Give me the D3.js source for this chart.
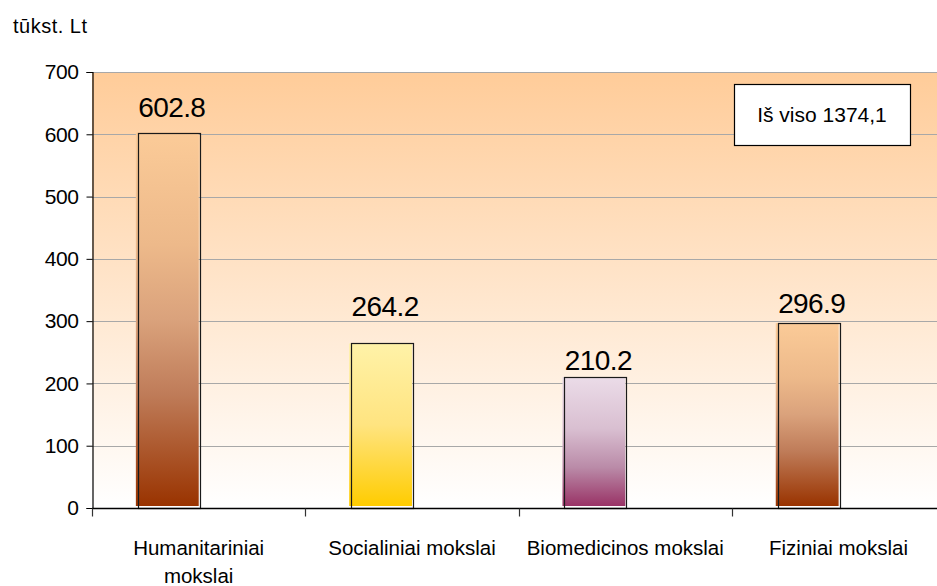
<!DOCTYPE html>
<html>
<head>
<meta charset="utf-8">
<script src="https://cdn.jsdelivr.net/npm/d3@7"></script>
<style>
  html, body { margin: 0; padding: 0; background: #ffffff; }
  svg { display: block; font-family: "Liberation Sans", Arial, sans-serif; }
</style>
</head>
<body>
<svg id="chart" width="937" height="586"></svg>
<script>
// ---- data ----
const categories = ["Humanitariniai mokslai", "Socialiniai mokslai", "Biomedicinos mokslai", "Fiziniai mokslai"];
const values = [602.8, 264.2, 210.2, 296.9];
const valueLabels = ["602.8", "264.2", "210.2", "296.9"];
const yTicks = [0, 100, 200, 300, 400, 500, 600, 700];
const unitLabel = "tūkst. Lt";
const totalLabel = "Iš viso 1374,1";

// ---- styles ----
const brownStops = [["0%", "#FBCB98"], ["30%", "#EDB98A"], ["50%", "#DAA27C"], ["70%", "#BF7C59"], ["100%", "#993300"]];
const yellowStops = [["0%", "#FFF2A8"], ["50%", "#FFE480"], ["100%", "#FFCC00"]];
const plumStops = [["0%", "#EBDCE8"], ["40%", "#D9BFD1"], ["70%", "#BA8BA8"], ["100%", "#993366"]];
const barStops = [brownStops, yellowStops, plumStops, brownStops];
const labelLift = [16, 27, 7, 10];

const svg = d3.select("#chart");
const margin = { left: 92, top: 72, bottom: 508 };
const bandW = 213.3;

const x = d3.scaleBand().domain(categories).range([margin.left, margin.left + bandW * categories.length]).padding(0);
const y = d3.scaleLinear().domain([0, 700]).range([margin.bottom, margin.top]);
const plotRight = x.range()[1];

const defs = svg.append("defs");
const bg = defs.append("linearGradient").attr("id", "bg").attr("x1", 0).attr("y1", 0).attr("x2", 0).attr("y2", 1);
bg.append("stop").attr("offset", "0%").attr("stop-color", "#FFCC99");
bg.append("stop").attr("offset", "100%").attr("stop-color", "#FFFFFF");

categories.forEach((c, i) => {
  const g = defs.append("linearGradient").attr("id", "bar" + i).attr("x1", 0).attr("y1", 0).attr("x2", 0).attr("y2", 1);
  barStops[i].forEach(s => g.append("stop").attr("offset", s[0]).attr("stop-color", s[1]));
});

// plot background
svg.append("rect")
  .attr("x", margin.left).attr("y", y(700))
  .attr("width", plotRight - margin.left).attr("height", y(0) - y(700))
  .attr("fill", "url(#bg)");

// gridlines
svg.append("g").selectAll("line").data(yTicks.filter(d => d > 0)).join("line")
  .attr("x1", margin.left).attr("x2", plotRight)
  .attr("y1", d => Math.round(y(d)) + 0.5).attr("y2", d => Math.round(y(d)) + 0.5)
  .attr("stroke", "#A8A8A8").attr("stroke-width", 1);

// bars
const bx = d => x(d) + x.bandwidth() * 0.215;
const bw = x.bandwidth() * 0.29;
const bars = svg.append("g").selectAll("g").data(categories).join("g");
bars.append("rect")
  .attr("x", (d) => bx(d) - 2)
  .attr("y", (d, i) => y(values[i]))
  .attr("width", bw + 1)
  .attr("height", (d, i) => y(0) - y(values[i]) - 2)
  .attr("fill", (d, i) => `url(#bar${i})`);
bars.append("rect")
  .attr("x", d => Math.round(bx(d)) + 0.5)
  .attr("y", (d, i) => Math.round(y(values[i])) + 0.5)
  .attr("width", Math.round(bw))
  .attr("height", (d, i) => Math.round(y(0)) - Math.round(y(values[i])))
  .attr("fill", "none").attr("stroke", "#1a1a1a").attr("stroke-width", 1.2);

// value labels
svg.append("g").selectAll("text").data(categories).join("text")
  .attr("x", d => bx(d) + bw / 2 + 3)
  .attr("y", (d, i) => y(values[i]) - labelLift[i])
  .attr("text-anchor", "middle")
  .attr("font-size", "28px")
  .attr("letter-spacing", "-0.6px")
  .attr("fill", "#000")
  .text((d, i) => valueLabels[i]);

// y axis
const yAxis = svg.append("g").attr("transform", `translate(${margin.left + 0.5},0)`)
  .call(d3.axisLeft(y).tickValues(yTicks).tickSize(6).tickPadding(8).tickFormat(d3.format("d")));
yAxis.select(".domain").attr("stroke", "#000").attr("stroke-width", 1.2);
yAxis.selectAll(".tick line").attr("stroke", "#000");
yAxis.selectAll(".tick text").attr("font-size", "21px").attr("fill", "#000")
  .attr("font-family", "\"Liberation Sans\", Arial, sans-serif").attr("letter-spacing", "-0.4px");

// x axis
const xAxis = svg.append("g").attr("transform", `translate(0,${Math.round(y(0)) + 0.5})`);
xAxis.append("line").attr("x1", margin.left).attr("x2", plotRight).attr("stroke", "#000").attr("stroke-width", 1.4);
xAxis.selectAll("line.tk").data(d3.range(categories.length + 1)).join("line").attr("class", "tk")
  .attr("x1", i => Math.round(margin.left + x.step() * i) + 0.5)
  .attr("x2", i => Math.round(margin.left + x.step() * i) + 0.5)
  .attr("y1", 0).attr("y2", 8).attr("stroke", "#333").attr("stroke-width", 1.2);

// category labels (wrapped)
const catText = svg.append("g").selectAll("text").data(categories).join("text")
  .attr("x", d => x(d) + x.bandwidth() / 2)
  .attr("y", 555)
  .attr("text-anchor", "middle")
  .attr("font-size", "20.5px")
  .attr("fill", "#000");
catText.each(function (d) {
  const t = d3.select(this);
  const words = d.split(" ");
  let line = [];
  let lines = [];
  const tmp = t.append("tspan");
  words.forEach(w => {
    line.push(w);
    tmp.text(line.join(" "));
    if (tmp.node().getComputedTextLength() > 202 && line.length > 1) {
      line.pop();
      lines.push(line.join(" "));
      line = [w];
    }
  });
  lines.push(line.join(" "));
  tmp.remove();
  lines.forEach((l, k) => {
    t.append("tspan").attr("x", x(d) + x.bandwidth() / 2).attr("dy", k === 0 ? 0 : 28).text(l);
  });
});

// unit label
svg.append("text").attr("x", 13).attr("y", 33).attr("font-size", "20px").attr("letter-spacing", "0.5px")
  .attr("fill", "#000").text(unitLabel);

// total box
const boxG = svg.append("g");
boxG.append("rect").attr("x", 734.5).attr("y", 84.5).attr("width", 176).attr("height", 61)
  .attr("fill", "#fff").attr("stroke", "#000").attr("stroke-width", 1.2);
boxG.append("text").attr("x", 822).attr("y", 122).attr("text-anchor", "middle")
  .attr("font-size", "21px").attr("fill", "#000").text(totalLabel);
</script>
</body>
</html>
